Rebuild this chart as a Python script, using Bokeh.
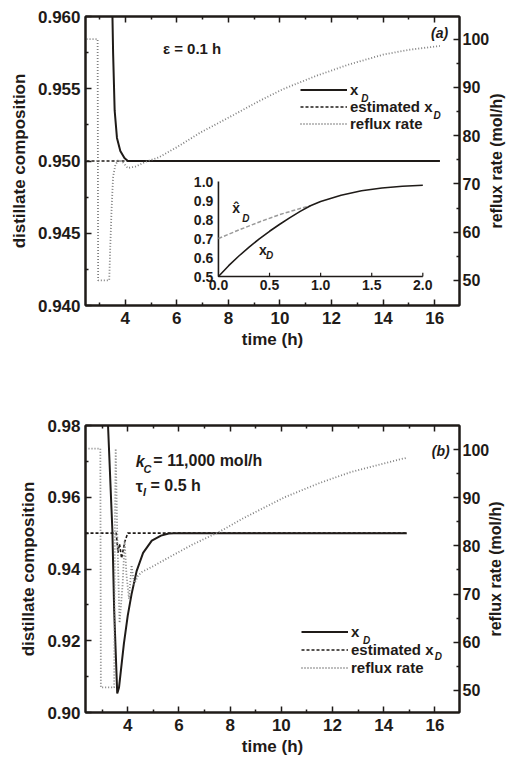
import math
from bokeh.plotting import figure
from bokeh.models import (Range1d, LinearAxis, FixedTicker, PrintfTickFormatter,
                          CustomJSTickFormatter, Legend, LegendItem, Label)
from bokeh.layouts import column
from bokeh.embed import file_html
from bokeh.resources import INLINE
from bokeh.core.properties import value

INK = "#1f1b18"
GREY = "#808080"
FONT = "Liberation Sans"

# ---------------- panel (a) data ----------------
a_xd_time = [3.49, 3.53, 3.59, 3.68, 3.81, 3.97, 4.10, 16.2]
a_xd = [0.9615, 0.9575, 0.9535, 0.9516, 0.9507, 0.9502, 0.9500, 0.9500]
a_est_time = [2.50, 16.2]
a_est = [0.9500, 0.9500]
a_reflux_time = [2.50, 2.93, 2.95, 3.38, 3.42, 3.47, 3.53, 3.62, 3.75, 3.90, 4.10, 4.40,
                 4.80, 5.30, 6.0, 6.9, 8.2, 9.2, 10.1, 11.4, 12.7, 14.0, 15.0, 16.2]
a_reflux = [100.0, 100.0, 50.0, 50.0, 57.0, 64.7, 71.5, 74.0, 75.0, 74.5, 73.3, 73.6,
            74.6, 75.5, 77.6, 80.6, 84.3, 87.2, 89.6, 92.4, 94.8, 96.8, 97.8, 98.6]

# inset of panel (a)
inset_time = [0.0, 0.1, 0.2, 0.3, 0.4, 0.5, 0.6, 0.7, 0.8, 0.9, 1.0, 1.2, 1.4, 1.6, 1.8, 2.0]
inset_xd = [0.500, 0.557, 0.608, 0.655, 0.698, 0.738, 0.775, 0.810, 0.843, 0.872, 0.895,
            0.928, 0.951, 0.966, 0.975, 0.980]
inset_est_time = [0.0, 0.2, 0.4, 0.6, 0.8, 0.9]
inset_est = [0.700, 0.745, 0.787, 0.826, 0.858, 0.872]
inset_x_ticks = [0.0, 0.5, 1.0, 1.5, 2.0]
inset_x_labels = ["0.0", "0.5", "1.0", "1.5", "2.0"]
inset_y_ticks = [0.5, 0.6, 0.7, 0.8, 0.9, 1.0]
inset_y_labels = ["0.5", "0.6", "0.7", "0.8", "0.9", "1.0"]

# ---------------- panel (b) data ----------------
b_xd_time = [3.20, 3.23, 3.40, 3.47, 3.59, 3.66, 3.85, 4.00, 4.15, 4.35, 4.60, 4.94,
             5.30, 5.60, 6.0, 14.9]
b_xd = [0.990, 0.980, 0.9507, 0.9284, 0.9053, 0.907, 0.9192, 0.927, 0.933, 0.9395,
        0.9445, 0.9479, 0.9493, 0.9499, 0.9500, 0.9500]
b_est_time = [2.35, 3.55, 3.62, 3.68, 3.76, 3.88, 4.00, 14.9]
b_est = [0.950, 0.950, 0.9445, 0.947, 0.943, 0.9475, 0.950, 0.950]
b_reflux_time = [2.35, 2.93, 2.95, 3.47, 3.50, 3.53, 3.58, 3.68, 3.80, 3.88, 3.95, 4.05,
                 4.15, 4.25, 4.40, 4.56, 5.0, 5.64, 6.5, 7.57, 8.5, 9.2, 10.13, 11.42,
                 12.7, 13.98, 14.9]
b_reflux = [100.2, 100.2, 50.6, 50.6, 85.0, 100.2, 85.0, 64.0, 72.0, 81.0, 74.0, 69.0,
            76.0, 72.0, 73.8, 74.6, 75.8, 77.7, 80.2, 82.9, 85.7, 87.6, 90.1, 92.9,
            95.3, 97.1, 98.3]

# ---------------- tick lists ----------------
time_ticks = [4, 6, 8, 10, 12, 14, 16]
time_minor = [3, 5, 7, 9, 11, 13, 15]
a_comp_ticks = [0.940, 0.945, 0.950, 0.955, 0.960]
a_comp_minor = [0.9425, 0.9475, 0.9525, 0.9575]
b_comp_ticks = [0.90, 0.92, 0.94, 0.96, 0.98]
b_comp_minor = [0.91, 0.93, 0.95, 0.97]
reflux_ticks = [50, 60, 70, 80, 90, 100]
reflux_minor = [55, 65, 75, 85, 95]


def style_axis(ax, fmt=None, label_size="17px"):
    ax.axis_line_color = INK
    ax.axis_line_width = 2
    ax.major_tick_line_color = INK
    ax.major_tick_line_width = 1.5
    ax.minor_tick_line_color = INK
    ax.minor_tick_line_width = 1.5
    ax.major_tick_in = 6
    ax.major_tick_out = 0
    ax.minor_tick_in = 3
    ax.minor_tick_out = 0
    ax.major_label_text_font = FONT
    ax.major_label_text_font_style = "bold"
    ax.major_label_text_font_size = label_size
    ax.major_label_text_color = INK
    ax.axis_label_text_font = FONT
    ax.axis_label_text_font_style = "bold"
    ax.axis_label_text_font_size = "17px"
    ax.axis_label_text_color = INK
    if fmt is not None:
        ax.formatter = fmt


def make_label(x, y, text, size="15px", style="bold", align="left", xr="default",
               yr="default", angle=0.0):
    return Label(x=x, y=y, text=text, x_range_name=xr, y_range_name=yr,
                 angle=angle, text_font=FONT, text_font_size=size,
                 text_font_style=style, text_color=INK, text_align=align,
                 text_baseline="middle")


def lab(p, *args, **kw):
    p.add_layout(make_label(*args, **kw))


def make_panel(height, xr, yr, rr, comp_ticks, comp_minor, comp_fmt, borders):
    bl, br, bt, bb = borders
    p = figure(width=509, height=height, x_range=Range1d(*xr), y_range=Range1d(*yr),
               output_backend="svg", toolbar_location=None,
               min_border_left=bl, min_border_right=br, min_border_top=bt,
               min_border_bottom=bb)
    p.grid.visible = False
    p.background_fill_color = "white"
    p.border_fill_color = "white"
    p.outline_line_color = INK
    p.outline_line_width = 2
    p.extra_y_ranges = {"r": Range1d(*rr)}

    xa = p.below[0]
    xa.ticker = FixedTicker(ticks=time_ticks, minor_ticks=time_minor)
    style_axis(xa, PrintfTickFormatter(format="%d"))
    xa.axis_label = "time (h)"
    xa.major_label_standoff = 6
    xa.axis_label_standoff = 3

    ya = p.left[0]
    ya.ticker = FixedTicker(ticks=comp_ticks, minor_ticks=comp_minor)
    style_axis(ya, PrintfTickFormatter(format=comp_fmt))
    ya.axis_label = "distillate composition"
    ya.major_label_standoff = 5
    ya.axis_label_standoff = 6

    ra = LinearAxis(y_range_name="r",
                    ticker=FixedTicker(ticks=reflux_ticks, minor_ticks=reflux_minor))
    style_axis(ra, PrintfTickFormatter(format="%d"), label_size="16px")
    ra.major_label_standoff = 3
    p.add_layout(ra, "right")

    # right-hand title, read bottom-to-top, in its own side panel
    p.add_layout(make_label(xr[1] + 1.42, (yr[0] + yr[1]) / 2, "reflux rate (mol/h)",
                            size="16px", align="center", angle=math.pi / 2), "right")

    ta = LinearAxis(ticker=FixedTicker(ticks=time_ticks, minor_ticks=time_minor),
                    formatter=CustomJSTickFormatter(code="return ''"))
    style_axis(ta)
    ta.major_label_text_font_size = "1px"
    ta.major_label_standoff = 0
    p.add_layout(ta, "above")
    return p


def add_series(p, xd_t, xd, est_t, est, rf_t, rf):
    r_xd = p.line(xd_t, xd, line_color=INK, line_width=2)
    r_est = p.line(est_t, est, line_color=INK, line_width=1.6, line_dash="3 2")
    r_rf = p.line(rf_t, rf, y_range_name="r", line_color=GREY, line_width=1.8,
                  line_dash="1 2")
    return r_xd, r_est, r_rf


def add_legend(p, rends, loc, spacing):
    items = [LegendItem(label="x", renderers=[rends[0]]),
             LegendItem(label="estimated x", renderers=[rends[1]]),
             LegendItem(label="reflux rate", renderers=[rends[2]])]
    lg = Legend(items=items, location=loc, padding=0, margin=0,
                border_line_color=None, background_fill_alpha=0,
                glyph_width=47, glyph_height=17, label_height=17,
                label_standoff=3, spacing=spacing,
                label_text_font=FONT, label_text_font_style="bold",
                label_text_font_size="15px", label_text_color=INK,
                label_text_baseline="middle")
    p.add_layout(lg)


# ================= panel (a) =================
pa = make_panel(398, (2.46, 16.96), (0.940, 0.960), (44.8, 104.7),
                a_comp_ticks, a_comp_minor, "%.3f", (85, 47, 16, 93))
ra_rends = add_series(pa, a_xd_time, a_xd, a_est_time, a_est, a_reflux_time, a_reflux)
add_legend(pa, ra_rends, (215, 173), 0)
lab(pa, 13.15, 0.95433, "D", size="10px", style="bold italic")
lab(pa, 15.95, 0.95315, "D", size="10px", style="bold italic")
lab(pa, 5.46, 0.95779, "ε = 0.1 h")
lab(pa, 16.19, 0.95889, "(a)", size="14px", style="bold italic", align="center")

# inset drawn on extra ranges mapped onto the inset area
pa.extra_x_ranges = {"ix": Range1d(-1.301, 2.359)}
pa.extra_y_ranges["iy"] = Range1d(0.3474, 1.8684)
ix0, ix1 = min(inset_x_ticks), max(inset_x_ticks)
iy0, iy1 = min(inset_y_ticks), max(inset_y_ticks)
pa.line([ix0, ix0, ix1], [iy1, iy0, iy0], x_range_name="ix", y_range_name="iy",
        line_color=INK, line_width=1.6)
pa.segment(x0=inset_x_ticks[1:], y0=[iy0] * 4, x1=inset_x_ticks[1:],
           y1=[iy0 + 0.02] * 4, x_range_name="ix", y_range_name="iy",
           line_color=INK, line_width=1.2)
pa.text(x=[ix0 - 0.05] * len(inset_y_ticks), y=inset_y_ticks, text=inset_y_labels,
        x_range_name="ix", y_range_name="iy", text_font=value(FONT),
        text_font_size=value("14px"), text_font_style=value("bold"),
        text_color=INK, text_align="right", text_baseline="middle")
pa.text(x=inset_x_ticks, y=[iy0 - 0.018] * len(inset_x_ticks), text=inset_x_labels,
        x_range_name="ix", y_range_name="iy", text_font=value(FONT),
        text_font_size=value("14px"), text_font_style=value("bold"),
        text_color=INK, text_align="center", text_baseline="top")
pa.line(inset_est_time, inset_est, x_range_name="ix", y_range_name="iy",
        line_color="#9a9a9a", line_width=1.5, line_dash="4 2")
pa.line(inset_time, inset_xd, x_range_name="ix", y_range_name="iy",
        line_color=INK, line_width=1.6)
lab(pa, 0.136, 0.858, "x̂", size="14px", style="bold", xr="ix", yr="iy")
lab(pa, 0.233, 0.805, "D", size="10px", style="bold italic", xr="ix", yr="iy")
lab(pa, 0.398, 0.642, "x", size="14px", style="bold", xr="ix", yr="iy")
lab(pa, 0.466, 0.611, "D", size="10px", style="bold italic", xr="ix", yr="iy")

# ================= panel (b) =================
pb = make_panel(361, (2.35, 16.96), (0.90, 0.98), (45.4, 105.0),
                b_comp_ticks, b_comp_minor, "%.2f", (81, 47, 27, 47))
rb_rends = add_series(pb, b_xd_time, b_xd, b_est_time, b_est, b_reflux_time, b_reflux)
add_legend(pb, rb_rends, (216, 36), 1)
lab(pb, 13.19, 0.92008, "D", size="10px", style="bold italic")
lab(pb, 15.99, 0.91562, "D", size="10px", style="bold italic")
lab(pb, 4.31, 0.96997, "k", size="16px", style="bold italic")
lab(pb, 4.62, 0.96774, "C", size="11px", style="bold italic")
lab(pb, 5.00, 0.97025, "= 11,000 mol/h", size="16px")
lab(pb, 4.31, 0.96300, "τ", size="16px", style="bold")
lab(pb, 4.60, 0.96160, "I", size="11px", style="bold italic")
lab(pb, 4.89, 0.96328, "= 0.5 h", size="16px")
lab(pb, 16.23, 0.97303, "(b)", size="14px", style="bold italic", align="center")

layout = column(pa, pb)
open("out.html", "w").write(file_html(layout, INLINE))
